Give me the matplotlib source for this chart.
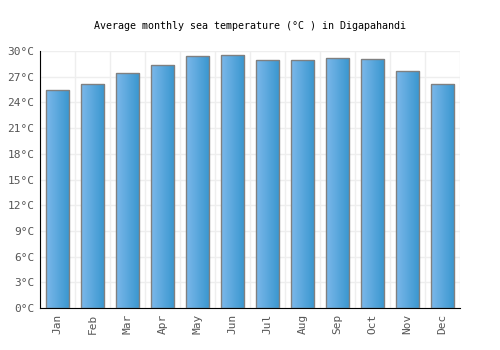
import numpy as np
import matplotlib.pyplot as plt
from matplotlib.colors import LinearSegmentedColormap

months = ["Jan", "Feb", "Mar", "Apr", "May", "Jun",
          "Jul", "Aug", "Sep", "Oct", "Nov", "Dec"]
temps = [25.4, 26.1, 27.5, 28.4, 29.4, 29.6, 29.0, 29.0, 29.25, 29.1, 27.7, 26.2]
yticks = [0, 3, 6, 9, 12, 15, 18, 21, 24, 27, 30]

plt.rcParams["font.family"] = ["DejaVu Sans Mono"]

fig = plt.figure(figsize=(5, 3.5), dpi=100)
ax = fig.add_axes([0.08, 0.12, 0.84, 0.734])

x = np.arange(len(months))
bars = ax.bar(x, temps, width=0.66, color="none", edgecolor="#808080",
              linewidth=1.0, zorder=3)

# horizontal gradient inside each bar
cmap = LinearSegmentedColormap.from_list("bar", ["#7cb8ea", "#3896cf"])
grad = np.linspace(0, 1, 64).reshape(1, -1)
for b in bars:
    x0, y0 = b.get_x(), b.get_y()
    w, h = b.get_width(), b.get_height()
    im = ax.imshow(grad, cmap=cmap, aspect="auto", extent=[x0, x0 + w, y0, y0 + h],
                   zorder=2, interpolation="bilinear")
    im.set_clip_path(b)

ax.set_xlim(-0.5, len(months) - 0.5)
ax.set_ylim(0, 30)
ax.set_yticks(yticks)
ax.set_yticklabels([f"{v}°C" for v in yticks], fontsize=8, color="#555555")
ax.set_xticks(x)
ax.set_xticklabels(months, rotation=90, fontsize=8, color="#555555")
ax.set_xticks(np.arange(-0.5, len(months)), minor=True)
ax.tick_params(axis="both", length=0, pad=4)
ax.tick_params(axis="x", which="minor", length=0)

ax.grid(axis="y", color="#eeeeee", linewidth=1, zorder=0)
ax.grid(axis="x", which="minor", color="#eeeeee", linewidth=1, zorder=0)
ax.set_axisbelow(True)

for s in ["top", "right"]:
    ax.spines[s].set_visible(False)
ax.spines["left"].set_color("black")
ax.spines["bottom"].set_color("black")

fig.text(0.5, 0.925, "Average monthly sea temperature (°C ) in Digapahandi",
         ha="center", va="center", fontsize=7.2, color="black")

fig.savefig("out.png", dpi=100)
